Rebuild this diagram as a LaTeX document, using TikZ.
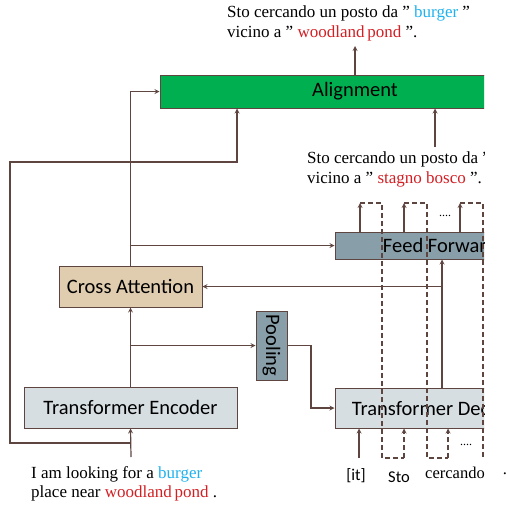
\documentclass[tikz,border=0pt]{standalone}
\usepackage{fontspec}
\setmainfont{Liberation Serif}
\setsansfont{Carlito}
\usetikzlibrary{arrows, shadows}
\definecolor{linebrown}{HTML}{5E4540}
\definecolor{aligngreen}{HTML}{00B050}
\definecolor{attbeige}{HTML}{E0CCAE}
\definecolor{poolgray}{HTML}{889FA9}
\definecolor{transgray}{HTML}{D7DEE2}
\definecolor{wordblue}{HTML}{1FB2EE}
\definecolor{wordred}{HTML}{D21F24}
\tikzstyle{block} = [
    rectangle,
    draw=linebrown,
    line width=1pt,
    font=\sffamily\fontsize{20.5}{22}\selectfont,
    drop shadow={opacity=0.25, shadow xshift=1.2pt, shadow yshift=-1.2pt}
]
\tikzstyle{sentence} = [
    align=left,
    inner sep=0pt,
    font=\fontsize{17}{19.5}\selectfont
]
\tikzstyle{token} = [
    inner sep=0pt,
    font=\fontsize{16.5}{18}\selectfont
]
\tikzstyle{arrow} = [line width=1.2pt, draw=linebrown, ->, >=stealth]
\tikzstyle{loopback} = [line width=1.2pt, draw=linebrown, dashed, dash pattern=on 5pt off 3pt]

\begin{document}
\begin{tikzpicture}[x=1pt, y=-1pt]

\useasboundingbox (0,0) rectangle (506,506);

\begin{scope}
\clip (0,0) rectangle (484,506);

\node (align) [block, fill=aligngreen, minimum width=390pt, minimum height=33pt]
at (355,91.5) {\raisebox{-2pt}{Alignment}};

\node (crossatt) [block, fill=attbeige, minimum width=143pt, minimum height=41pt]
at (130.5,286.5) {Cross Attention};

\node (encoder) [block, fill=transgray, minimum width=213pt, minimum height=41pt]
at (130.5,407.5) {Transformer Encoder};

\node (pooling) [block, fill=poolgray, minimum width=31pt, minimum height=69pt, inner sep=0pt]
at (271.5,345.5) {\rotatebox{-90}{Pooling}};

\node (ff) [block, fill=poolgray, minimum width=210pt, minimum height=27pt, inner sep=0pt]
at (440,245.5) {Feed Forward};

\node (decoder) [block, fill=transgray, minimum width=210pt, minimum height=40pt]
at (440,408) {Transformer Decoder};

% sentences
\node (srcsent) [sentence, anchor=north west] at (31,466)
{I am looking for a \textcolor{wordblue}{burger}\\
place near \textcolor{wordred}{woodland\,pond} .};

\node (outsent) [sentence, anchor=north west] at (227,6)
{Sto cercando un posto da " \textcolor{wordblue}{burger} "\\
vicino a " \textcolor{wordred}{woodland\,pond} ".};

\node (tgtsent) [sentence, anchor=north west] at (307,152)
{Sto cercando un posto da " \textcolor{wordblue}{burger} "\\
vicino a " \textcolor{wordred}{stagno bosco} ".};

% decoder tokens
\node (tokit) [token, font=\sffamily\fontsize{16.5}{18}\selectfont] at (356,476) {[it]};
\node (toksto) [token, font=\sffamily\fontsize{16.5}{18}\selectfont] at (399,477) {Sto};
\node (tokcerc) [token] at (455,473) {cercando};
\node (dotsbot) [token, font=\fontsize{12}{12}\selectfont] at (466,445) {....};
\node (dotstop) [token, font=\fontsize{12}{12}\selectfont] at (445,216) {....};

\coordinate (srcin) at (131,457);
\coordinate (srcloop) at (131,443);
\coordinate (leftcorner) at (10,162);
\coordinate (srctap) at (237,0);
\coordinate (tgtin) at (435,147);
\coordinate (outtop) at (355,46);
\coordinate (dectap) at (442,0);
\coordinate (pooltap) at (311,0);
\coordinate (itin) at (359,458);

% encoder side
\draw [arrow] (srcin) -- (encoder.south);
\draw [arrow] (srcloop) -| (leftcorner) -| (align.south -| srctap);
\draw [arrow] (encoder.north) -- (crossatt.south);
\draw [arrow] (encoder.north |- pooling.west) -- (pooling.west);
\draw [arrow] (crossatt.north) |- (align.west);
\draw [arrow] (crossatt.north |- ff.west) -- (ff.west);

% alignment
\draw [arrow] (align.north) -- (outtop);
\draw [arrow] (tgtin) -- (tgtin |- align.south);

% decoder side
\draw [arrow] (pooling.east) -| (pooltap |- decoder.west) -- (decoder.west);
\draw [arrow] (decoder.north -| dectap) -- (ff.south -| dectap);
\draw [arrow] (dectap |- crossatt.east) -- (crossatt.east);
\draw [arrow] (itin) -- (decoder.south -| itin);

% outputs fed back to the decoder
\draw [arrow] (ff.north -| 360,0) -- (360,203);
\draw [loopback] (360,203) -- (382,203) -- (382,458) -- (404,458);
\draw [arrow, dash pattern=on 5pt off 3pt] (404,458) -- (decoder.south -| 404,0);

\draw [arrow] (ff.north -| 404,0) -- (404,203);
\draw [loopback] (404,203) -- (427,203) -- (427,458) -- (448,458);
\draw [arrow, dash pattern=on 5pt off 3pt] (448,458) -- (decoder.south -| 448,0);

\draw [arrow] (ff.north -| 460,0) -- (460,203);
\draw [loopback] (460,203) -- (483,203) -- (483,458);
\end{scope}

\node (dotend) [token] at (505,474) {.};

\end{tikzpicture}
\end{document}
